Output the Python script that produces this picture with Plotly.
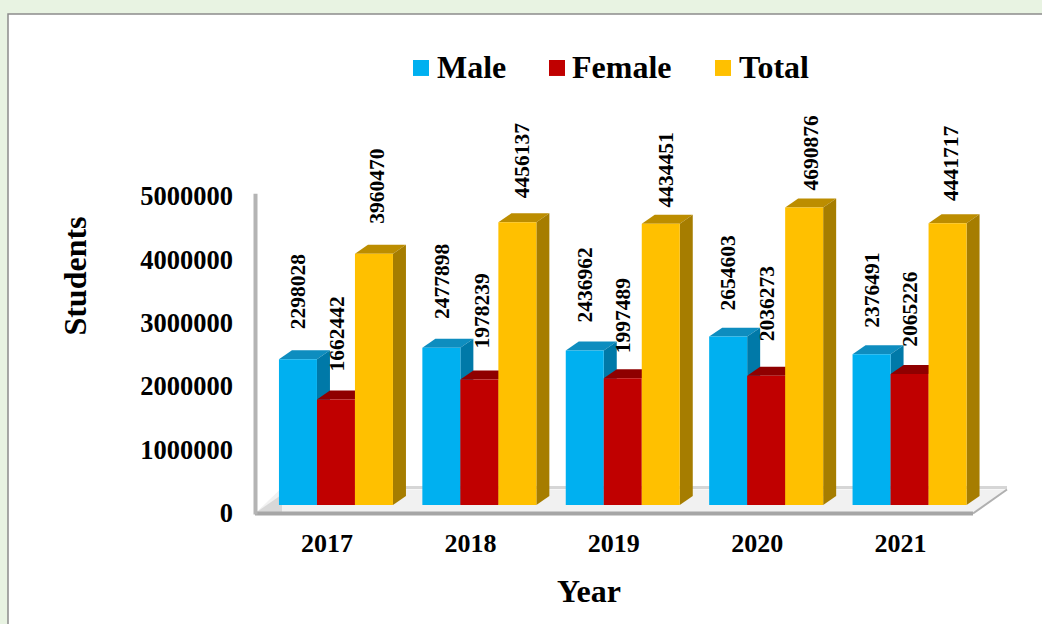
import plotly.graph_objects as go

# ---- data ----
years = [2017, 2018, 2019, 2020, 2021]
male = [2298028, 2477898, 2436962, 2654603, 2376491]
female = [1662442, 1978239, 1997489, 2036273, 2065226]
total = [3960470, 4456137, 4434451, 4690876, 4441717]
y_ticks = [0, 1000000, 2000000, 3000000, 4000000, 5000000]

# ---- style ----
W, H = 1042, 624
FONT = "Liberation Serif"
PAGE_BG = "#E8F3E2"
series = [
    dict(name="Male", values=male, front="#00B0F0", side="#0079A8", top="#0E8DBF", offset=-0.335),
    dict(name="Female", values=female, front="#C00000", side="#8A0000", top="#8F0000", offset=-0.070),
    dict(name="Total", values=total, front="#FFC000", side="#A67D00", top="#BC8D00", offset=0.195),
]
BAR_W = 0.265

# plot rectangle in page pixels
PL, PR, PT, PB = 255, 1006, 39, 513.5
PX_PER_X = 143.4        # pixels per year
PX_PER_Y = 63.5 / 1e6   # pixels per student
X_AT_PL = 2017 - (327 - PL) / PX_PER_X
x_range = [X_AT_PL, X_AT_PL + (PR - PL) / PX_PER_X]
y_range = [0, (PB - PT) / PX_PER_Y]

# pseudo-3D depth and floor lift, in axis units
DX = 13 / PX_PER_X
DY = 9 / PX_PER_Y
BASE = 8 / PX_PER_Y

# pixel nudges of each rotated value label relative to its bar top
label_gap = {
    "Male": [28, 26.7, 26.3, 24.4, 24.1],
    "Female": [26.4, 29.4, 23.2, 32.7, 24.9],
    "Total": [28.5, 22, 14.4, 15.1, 19.9],
}
label_dx = {
    "Male": [0, 0.5, 0, 0, 0.5],
    "Female": [1, 2.5, 0, 1, 1],
    "Total": [3, 4.5, 5, 7, 4],
}


def px(x):
    return (x - PL) / (PR - PL)


def py(y):
    return (PB - y) / (PB - PT)


def poly(points):
    return "M " + " L ".join(f"{a} {b}" for a, b in points) + " Z"


def pline(x0, y0, x1, y1, color, width):
    return dict(type="line", xref="paper", yref="paper", x0=px(x0), x1=px(x1), y0=py(y0), y1=py(y1),
                line=dict(color=color, width=width), layer="below")


shapes = [
    # white sheet on the pale green page
    dict(type="rect", xref="paper", yref="paper", x0=px(8), x1=px(W + 10), y0=py(14), y1=py(H + 10),
         fillcolor="white", line=dict(color="#8C8C8C", width=1.5), layer="below"),
    # floor
    dict(type="path", xref="paper", yref="paper",
         path=poly([(px(255), py(514)), (px(973), py(514)), (px(1007), py(490)), (px(280), py(490))]),
         fillcolor="#F1F1F1", line=dict(width=0), layer="below"),
    dict(type="path", xref="paper", yref="paper",
         path=poly([(px(256), py(513)), (px(282), py(513)), (px(282), py(495))]),
         fillcolor="#D8D8D8", line=dict(width=0), layer="below"),
    pline(280, 488, 1007, 488, "#D6D6D6", 3),
    pline(255, 514, 973, 514, "#A6A6A6", 4),
    pline(973, 514, 1007, 490, "#B0B0B0", 2),
    # left wall edge
    pline(255.5, 194, 255.5, 515, "#B4B4B4", 4),
]

fig = go.Figure()
annotations = []
for s in series:
    for yr, v, gap, dx in zip(years, s["values"], label_gap[s["name"]], label_dx[s["name"]]):
        x0 = yr + s["offset"]
        x1 = x0 + BAR_W
        top = BASE + v
        shapes.append(dict(type="path", xref="x", yref="y", layer="below",
                           path=poly([(x0, top), (x1, top), (x1 + DX, top + DY), (x0 + DX, top + DY)]),
                           fillcolor=s["top"], line=dict(width=0)))
        shapes.append(dict(type="path", xref="x", yref="y", layer="below",
                           path=poly([(x1, top), (x1 + DX, top + DY), (x1 + DX, BASE + DY), (x1, BASE)]),
                           fillcolor=s["side"], line=dict(width=0)))
        annotations.append(dict(x=x0 + BAR_W / 2, y=top, xref="x", yref="y", text=f"<b>{v}</b>",
                                textangle=-90, showarrow=False, yanchor="bottom", xanchor="center",
                                xshift=dx, yshift=gap, font=dict(family=FONT, size=21.5, color="black")))
    fig.add_trace(go.Bar(x=years, y=s["values"], base=BASE, name=s["name"], width=BAR_W, offset=s["offset"],
                         marker=dict(color=s["front"], line=dict(width=0)), showlegend=False))

# legend drawn at its exact place: one swatch and one label per series
legend_x = [(413, 435), (549, 570), (715, 737)]
for s, (sx, tx) in zip(series, legend_x):
    shapes.append(dict(type="rect", xref="paper", yref="paper", x0=px(sx), x1=px(sx + 16),
                       y0=py(60), y1=py(76), fillcolor=s["front"], line=dict(width=0)))
    annotations.append(dict(x=px(tx), y=py(67.5), xref="paper", yref="paper", text=f"<b>{s['name']}</b>",
                            showarrow=False, xanchor="left", yanchor="middle",
                            font=dict(family=FONT, size=32, color="black")))

annotations.append(dict(x=px(589), y=py(591.5), xref="paper", yref="paper", text="<b>Year</b>", showarrow=False,
                        xanchor="center", yanchor="middle", font=dict(family=FONT, size=32, color="black")))

fig.update_layout(
    width=W, height=H,
    margin=dict(l=PL, r=W - PR, t=PT, b=H - PB, pad=0, autoexpand=False),
    paper_bgcolor=PAGE_BG, plot_bgcolor="rgba(0,0,0,0)",
    barmode="overlay", shapes=shapes, annotations=annotations,
    xaxis=dict(range=x_range, tickmode="array", tickvals=years, ticktext=[str(y) for y in years],
               showgrid=False, zeroline=False, showline=False, ticks="", ticklabelstandoff=12,
               tickfont=dict(family=FONT, size=26, color="black", weight="bold")),
    yaxis=dict(range=y_range, tickmode="array", tickvals=y_ticks, ticktext=[str(t) for t in y_ticks],
               showgrid=False, zeroline=False, showline=False, ticks="", ticklabelstandoff=21,
               tickfont=dict(family=FONT, size=26.5, color="black", weight="bold"),
               title=dict(text="<b>Students</b>", standoff=44, font=dict(family=FONT, size=32, color="black"))),
)

fig.write_html("out.html", config=dict(displayModeBar=False),
               post_script="document.body.style.margin='0';document.body.style.overflow='hidden';")
